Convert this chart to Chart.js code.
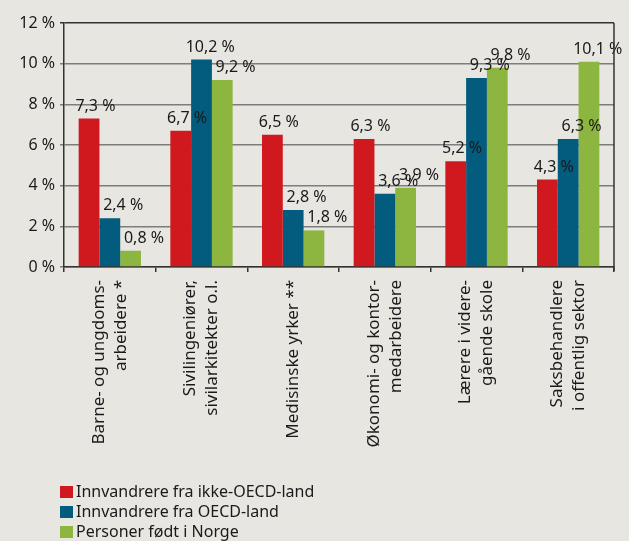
<!DOCTYPE html>
<html>
<head>
<meta charset="utf-8">
<script src="https://cdn.jsdelivr.net/npm/chart.js@4.4.1/dist/chart.umd.min.js"></script>
<style>
  html, body { margin: 0; padding: 0; background: #e7e6e1; }
  #wrap { width: 629px; height: 541px; }
</style>
</head>
<body>
<div id="wrap"><canvas id="jobChart"></canvas></div>
<script>
// Data
const categories = [
  ['Barne- og ungdoms-', 'arbeidere *'],
  ['Sivilingeniører,', 'sivilarkitekter o.l.'],
  ['Medisinske yrker **'],
  ['Økonomi- og kontor-', 'medarbeidere'],
  ['Lærere i videre-', 'gående skole'],
  ['Saksbehandlere', 'i offentlig sektor']
];
const seriesNames = ['Innvandrere fra ikke-OECD-land', 'Innvandrere fra OECD-land', 'Personer født i Norge'];
const ikkeOecd = [7.3, 6.7, 6.5, 6.3, 5.2, 4.3];
const oecd = [2.4, 10.2, 2.8, 3.6, 9.3, 6.3];
const norge = [0.8, 9.2, 1.8, 3.9, 9.8, 10.1];
const yTicks = [0, 2, 4, 6, 8, 10, 12];

const colors = ['#d0191f', '#035b7d', '#8db640'];
const FONT = '"Noto Sans", "DejaVu Sans", sans-serif';
const TEXT = '#1a1a1a';

const fmt = v => v.toFixed(1).replace('.', ',') + ' %';

// value labels over the bars (right edge a bit past the bar, like the original)
const barLabels = {
  id: 'barLabels',
  afterDatasetsDraw(chart) {
    const ctx = chart.ctx;
    ctx.save();
    ctx.font = '16px ' + FONT;
    ctx.fillStyle = TEXT;
    ctx.textAlign = 'right';
    chart.data.datasets.forEach((ds, i) => {
      const shift = i === 0 ? 16 : 23;
      chart.getDatasetMeta(i).data.forEach((bar, j) => {
        ctx.fillText(fmt(ds.data[j]), bar.x + bar.width / 2 + shift, bar.y - 8);
      });
    });
    ctx.restore();
  }
};

// rotated category labels, lines centred on the category
const catLabels = {
  id: 'catLabels',
  afterDraw(chart) {
    const ctx = chart.ctx;
    const x = chart.scales.x;
    ctx.save();
    ctx.font = '17px ' + FONT;
    ctx.fillStyle = TEXT;
    ctx.textAlign = 'right';
    ctx.textBaseline = 'middle';
    chart.data.labels.forEach((lines, i) => {
      const px = x.getPixelForValue(i);
      lines.forEach((line, k) => {
        ctx.save();
        ctx.translate(px + (k - (lines.length - 1) / 2) * 22, x.top + 13);
        ctx.rotate(-Math.PI / 2);
        ctx.fillText(line, 0, 0);
        ctx.restore();
      });
    });
    ctx.restore();
  }
};

// right border of plot
const frame = {
  id: 'frame',
  afterDraw(chart) {
    const { ctx, chartArea: a } = chart;
    ctx.save();
    ctx.strokeStyle = '#333';
    ctx.lineWidth = 1.5;
    ctx.beginPath();
    ctx.moveTo(a.right, a.top);
    ctx.lineTo(a.right, a.bottom + 4);
    ctx.stroke();
    ctx.restore();
  }
};

// stacked legend bottom-left
const stackLegend = {
  id: 'stackLegend',
  afterDraw(chart) {
    const ctx = chart.ctx;
    ctx.save();
    ctx.font = '16px ' + FONT;
    ctx.textBaseline = 'middle';
    chart.data.datasets.forEach((ds, i) => {
      const y = 492 + i * 20;
      ctx.fillStyle = ds.backgroundColor;
      ctx.fillRect(60, y - 6, 13, 12);
      ctx.fillStyle = TEXT;
      ctx.fillText(ds.label, 76, y);
    });
    ctx.restore();
  }
};

const ctx = document.getElementById('jobChart').getContext('2d');
new Chart(ctx, {
  type: 'bar',
  data: {
    labels: categories,
    datasets: [
      { label: seriesNames[0], data: ikkeOecd, backgroundColor: colors[0] },
      { label: seriesNames[1], data: oecd, backgroundColor: colors[1] },
      { label: seriesNames[2], data: norge, backgroundColor: colors[2] }
    ]
  },
  options: {
    responsive: true,
    maintainAspectRatio: false,
    animation: false,
    datasets: { bar: { barPercentage: 1, categoryPercentage: 0.68 } },
    layout: { padding: { top: 23, right: 15, bottom: 74, left: 0 } },
    plugins: {
      legend: { display: false },
      tooltip: { enabled: false }
    },
    scales: {
      x: {
        grid: { offset: true, drawOnChartArea: false, color: '#333', tickLength: 5, lineWidth: 1.5 },
        border: { color: '#333', width: 1.5 },
        ticks: { display: false },
        afterFit(scale) { scale.height = 200; }
      },
      y: {
        min: 0, max: 12,
        afterBuildTicks(scale) { scale.ticks = yTicks.map(v => ({ value: v })); },
        grid: {
          color: c => c.tick.value === 12 ? '#333' : '#7d7d7d',
          lineWidth: 1.5, tickLength: 4
        },
        border: { color: '#333', width: 1.5 },
        ticks: {
          padding: 5, color: TEXT,
          font: { family: FONT, size: 16 },
          callback: v => v + ' %'
        },
        afterFit(scale) { scale.width = 64; }
      }
    }
  },
  plugins: [barLabels, catLabels, frame, stackLegend]
});
</script>
</body>
</html>
